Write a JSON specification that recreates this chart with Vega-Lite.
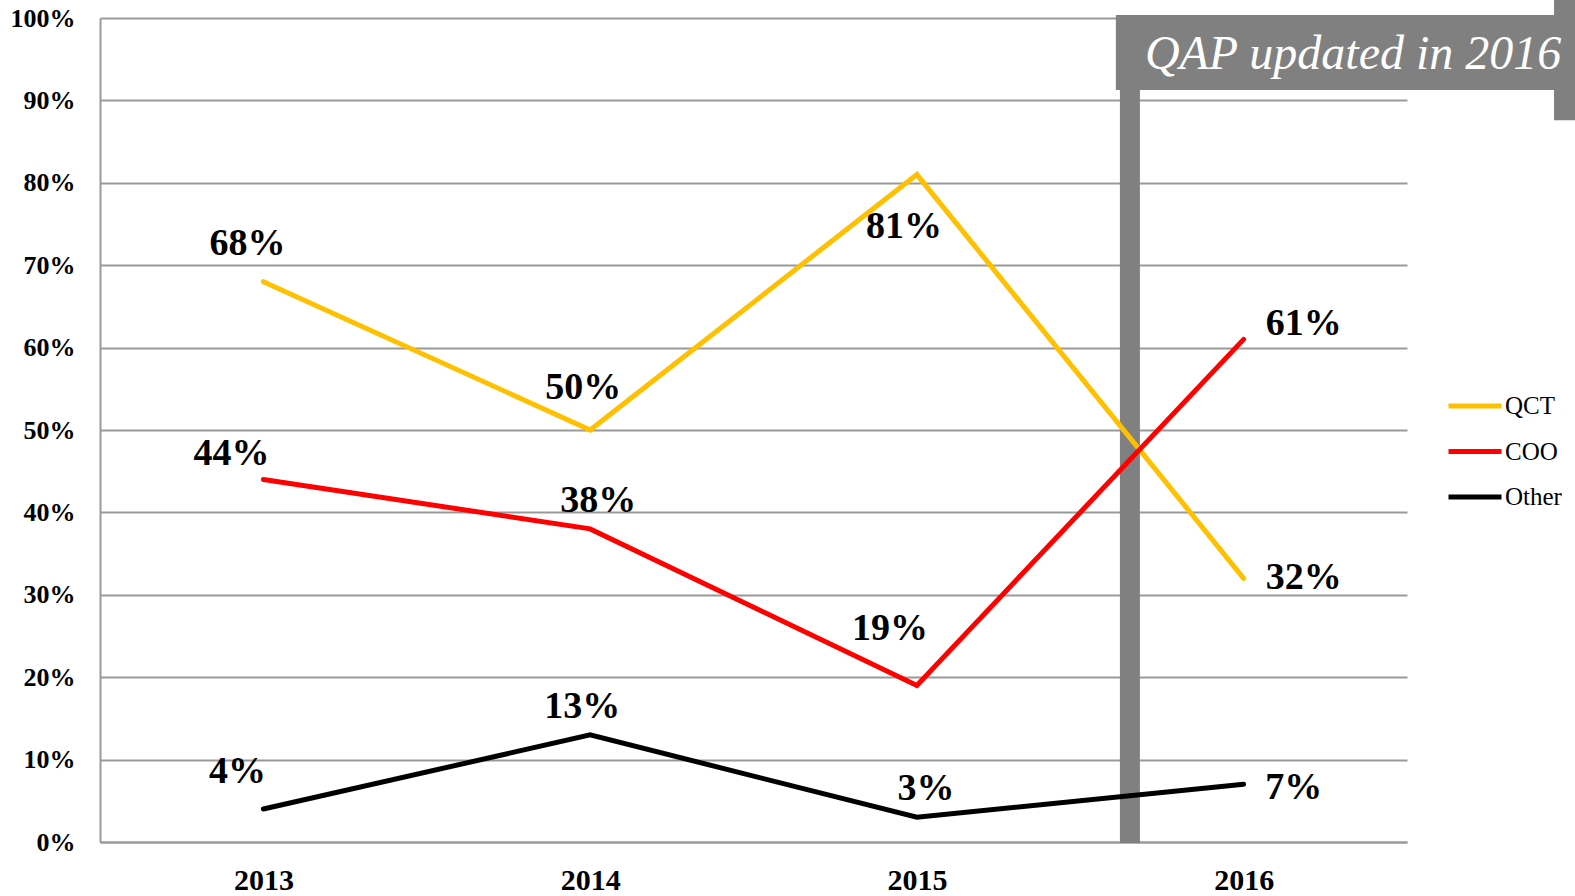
{
  "$schema": "https://vega.github.io/schema/vega-lite/v6.json",
  "width": 1307,
  "height": 824,
  "autosize": {"type": "none"},
  "padding": {"left": 100, "top": 18, "right": 168, "bottom": 54},
  "background": "white",
  "config": {
    "view": {"stroke": null},
    "font": "Liberation Serif",
    "axis": {"labelFont": "Liberation Serif", "labelFontWeight": "bold", "labelColor": "black", "domainColor": "#999999", "domainWidth": 2, "gridColor": "#999999", "gridWidth": 2, "ticks": false, "tickSize": 0, "title": null}
  },
  "datasets": {
    "main": [
      {"year": 2013, "series": "QCT", "value": 0.68},
      {"year": 2014, "series": "QCT", "value": 0.50},
      {"year": 2015, "series": "QCT", "value": 0.81},
      {"year": 2016, "series": "QCT", "value": 0.32},
      {"year": 2013, "series": "COO", "value": 0.44},
      {"year": 2014, "series": "COO", "value": 0.38},
      {"year": 2015, "series": "COO", "value": 0.19},
      {"year": 2016, "series": "COO", "value": 0.61},
      {"year": 2013, "series": "Other", "value": 0.04},
      {"year": 2014, "series": "Other", "value": 0.13},
      {"year": 2015, "series": "Other", "value": 0.03},
      {"year": 2016, "series": "Other", "value": 0.07}
    ]
  },
  "layer": [
    {
      "data": {"values": [{"x": 2015.652, "y": 0.9126, "y2": -0.0012}]},
      "mark": {"type": "rule", "strokeWidth": 20, "color": "#808080"},
      "encoding": {
        "x": {"field": "x", "type": "quantitative", "scale": {"domain": [2012.5, 2016.5], "nice": false, "zero": false}, "axis": {"values": [2013, 2014, 2015, 2016], "format": "d", "grid": false, "labelFontSize": 30, "labelPadding": 23, "labelBaseline": "top"}},
        "y": {"field": "y", "type": "quantitative", "scale": {"domain": [0, 1], "nice": false}, "axis": {"values": [0, 0.1, 0.2, 0.3, 0.4, 0.5, 0.6, 0.7, 0.8, 0.9, 1.0], "format": ".0%", "grid": true, "labelFontSize": 26, "labelPadding": 25}},
        "y2": {"field": "y2"}
      }
    },
    {
      "data": {"name": "main"},
      "mark": {"type": "line", "strokeWidth": 5, "strokeCap": "round", "strokeJoin": "miter"},
      "encoding": {
        "x": {"field": "year", "type": "quantitative"},
        "y": {"field": "value", "type": "quantitative"},
        "color": {
          "field": "series", "type": "nominal",
          "scale": {"domain": ["QCT", "COO", "Other"], "range": ["#FFC000", "#FF0000", "#000000"]},
          "legend": {"orient": "none", "legendX": 1346, "legendY": 359, "title": null, "symbolType": "stroke", "symbolSize": 2809, "symbolStrokeWidth": 5, "labelFont": "Liberation Serif", "labelFontSize": 25, "labelColor": "black", "rowPadding": 3.5, "labelOffset": 1}
        }
      }
    },
    {
      "data": {"values": [{"x": 2015.609, "x2": 2016.955, "y": 1.0036, "y2": 0.9126}, {"x": 2016.95, "x2": 2017.04, "y": 1.025, "y2": 0.876}]},
      "mark": {"type": "rect", "color": "#808080"},
      "encoding": {
        "x": {"field": "x", "type": "quantitative"},
        "x2": {"field": "x2"},
        "y": {"field": "y", "type": "quantitative"},
        "y2": {"field": "y2"}
      }
    },
    {
      "data": {"values": [{"x": 2016.335, "y": 0.955, "t": "QAP updated in 2016"}]},
      "mark": {"type": "text", "font": "Liberation Serif", "fontStyle": "italic", "fontSize": 48, "color": "white", "align": "center", "baseline": "middle"},
      "encoding": {
        "x": {"field": "x", "type": "quantitative"},
        "y": {"field": "y", "type": "quantitative"},
        "text": {"field": "t"}
      }
    },
    {"data": {"name": "main"}, "transform": [{"filter": "datum.series == 'QCT' && datum.year == 2013"}], "mark": {"type": "text", "font": "Liberation Serif", "fontWeight": "bold", "fontSize": 38, "color": "black", "dx": -16, "dy": -38}, "encoding": {"x": {"field": "year", "type": "quantitative"}, "y": {"field": "value", "type": "quantitative"}, "text": {"field": "value", "format": ".0%"}}},
    {"data": {"name": "main"}, "transform": [{"filter": "datum.series == 'QCT' && datum.year == 2014"}], "mark": {"type": "text", "font": "Liberation Serif", "fontWeight": "bold", "fontSize": 38, "color": "black", "dx": -7, "dy": -42}, "encoding": {"x": {"field": "year", "type": "quantitative"}, "y": {"field": "value", "type": "quantitative"}, "text": {"field": "value", "format": ".0%"}}},
    {"data": {"name": "main"}, "transform": [{"filter": "datum.series == 'QCT' && datum.year == 2015"}], "mark": {"type": "text", "font": "Liberation Serif", "fontWeight": "bold", "fontSize": 38, "color": "black", "dx": -13, "dy": 52}, "encoding": {"x": {"field": "year", "type": "quantitative"}, "y": {"field": "value", "type": "quantitative"}, "text": {"field": "value", "format": ".0%"}}},
    {"data": {"name": "main"}, "transform": [{"filter": "datum.series == 'QCT' && datum.year == 2016"}], "mark": {"type": "text", "font": "Liberation Serif", "fontWeight": "bold", "fontSize": 38, "color": "black", "dx": 60, "dy": 0}, "encoding": {"x": {"field": "year", "type": "quantitative"}, "y": {"field": "value", "type": "quantitative"}, "text": {"field": "value", "format": ".0%"}}},
    {"data": {"name": "main"}, "transform": [{"filter": "datum.series == 'COO' && datum.year == 2013"}], "mark": {"type": "text", "font": "Liberation Serif", "fontWeight": "bold", "fontSize": 38, "color": "black", "dx": -32, "dy": -25}, "encoding": {"x": {"field": "year", "type": "quantitative"}, "y": {"field": "value", "type": "quantitative"}, "text": {"field": "value", "format": ".0%"}}},
    {"data": {"name": "main"}, "transform": [{"filter": "datum.series == 'COO' && datum.year == 2014"}], "mark": {"type": "text", "font": "Liberation Serif", "fontWeight": "bold", "fontSize": 38, "color": "black", "dx": 8, "dy": -28}, "encoding": {"x": {"field": "year", "type": "quantitative"}, "y": {"field": "value", "type": "quantitative"}, "text": {"field": "value", "format": ".0%"}}},
    {"data": {"name": "main"}, "transform": [{"filter": "datum.series == 'COO' && datum.year == 2015"}], "mark": {"type": "text", "font": "Liberation Serif", "fontWeight": "bold", "fontSize": 38, "color": "black", "dx": -27, "dy": -56}, "encoding": {"x": {"field": "year", "type": "quantitative"}, "y": {"field": "value", "type": "quantitative"}, "text": {"field": "value", "format": ".0%"}}},
    {"data": {"name": "main"}, "transform": [{"filter": "datum.series == 'COO' && datum.year == 2016"}], "mark": {"type": "text", "font": "Liberation Serif", "fontWeight": "bold", "fontSize": 38, "color": "black", "dx": 60, "dy": -15}, "encoding": {"x": {"field": "year", "type": "quantitative"}, "y": {"field": "value", "type": "quantitative"}, "text": {"field": "value", "format": ".0%"}}},
    {"data": {"name": "main"}, "transform": [{"filter": "datum.series == 'Other' && datum.year == 2013"}], "mark": {"type": "text", "font": "Liberation Serif", "fontWeight": "bold", "fontSize": 38, "color": "black", "dx": -26, "dy": -37}, "encoding": {"x": {"field": "year", "type": "quantitative"}, "y": {"field": "value", "type": "quantitative"}, "text": {"field": "value", "format": ".0%"}}},
    {"data": {"name": "main"}, "transform": [{"filter": "datum.series == 'Other' && datum.year == 2014"}], "mark": {"type": "text", "font": "Liberation Serif", "fontWeight": "bold", "fontSize": 38, "color": "black", "dx": -8, "dy": -28}, "encoding": {"x": {"field": "year", "type": "quantitative"}, "y": {"field": "value", "type": "quantitative"}, "text": {"field": "value", "format": ".0%"}}},
    {"data": {"name": "main"}, "transform": [{"filter": "datum.series == 'Other' && datum.year == 2015"}], "mark": {"type": "text", "font": "Liberation Serif", "fontWeight": "bold", "fontSize": 38, "color": "black", "dx": 9, "dy": -28}, "encoding": {"x": {"field": "year", "type": "quantitative"}, "y": {"field": "value", "type": "quantitative"}, "text": {"field": "value", "format": ".0%"}}},
    {"data": {"name": "main"}, "transform": [{"filter": "datum.series == 'Other' && datum.year == 2016"}], "mark": {"type": "text", "font": "Liberation Serif", "fontWeight": "bold", "fontSize": 38, "color": "black", "dx": 50, "dy": 4}, "encoding": {"x": {"field": "year", "type": "quantitative"}, "y": {"field": "value", "type": "quantitative"}, "text": {"field": "value", "format": ".0%"}}}
  ]
}
